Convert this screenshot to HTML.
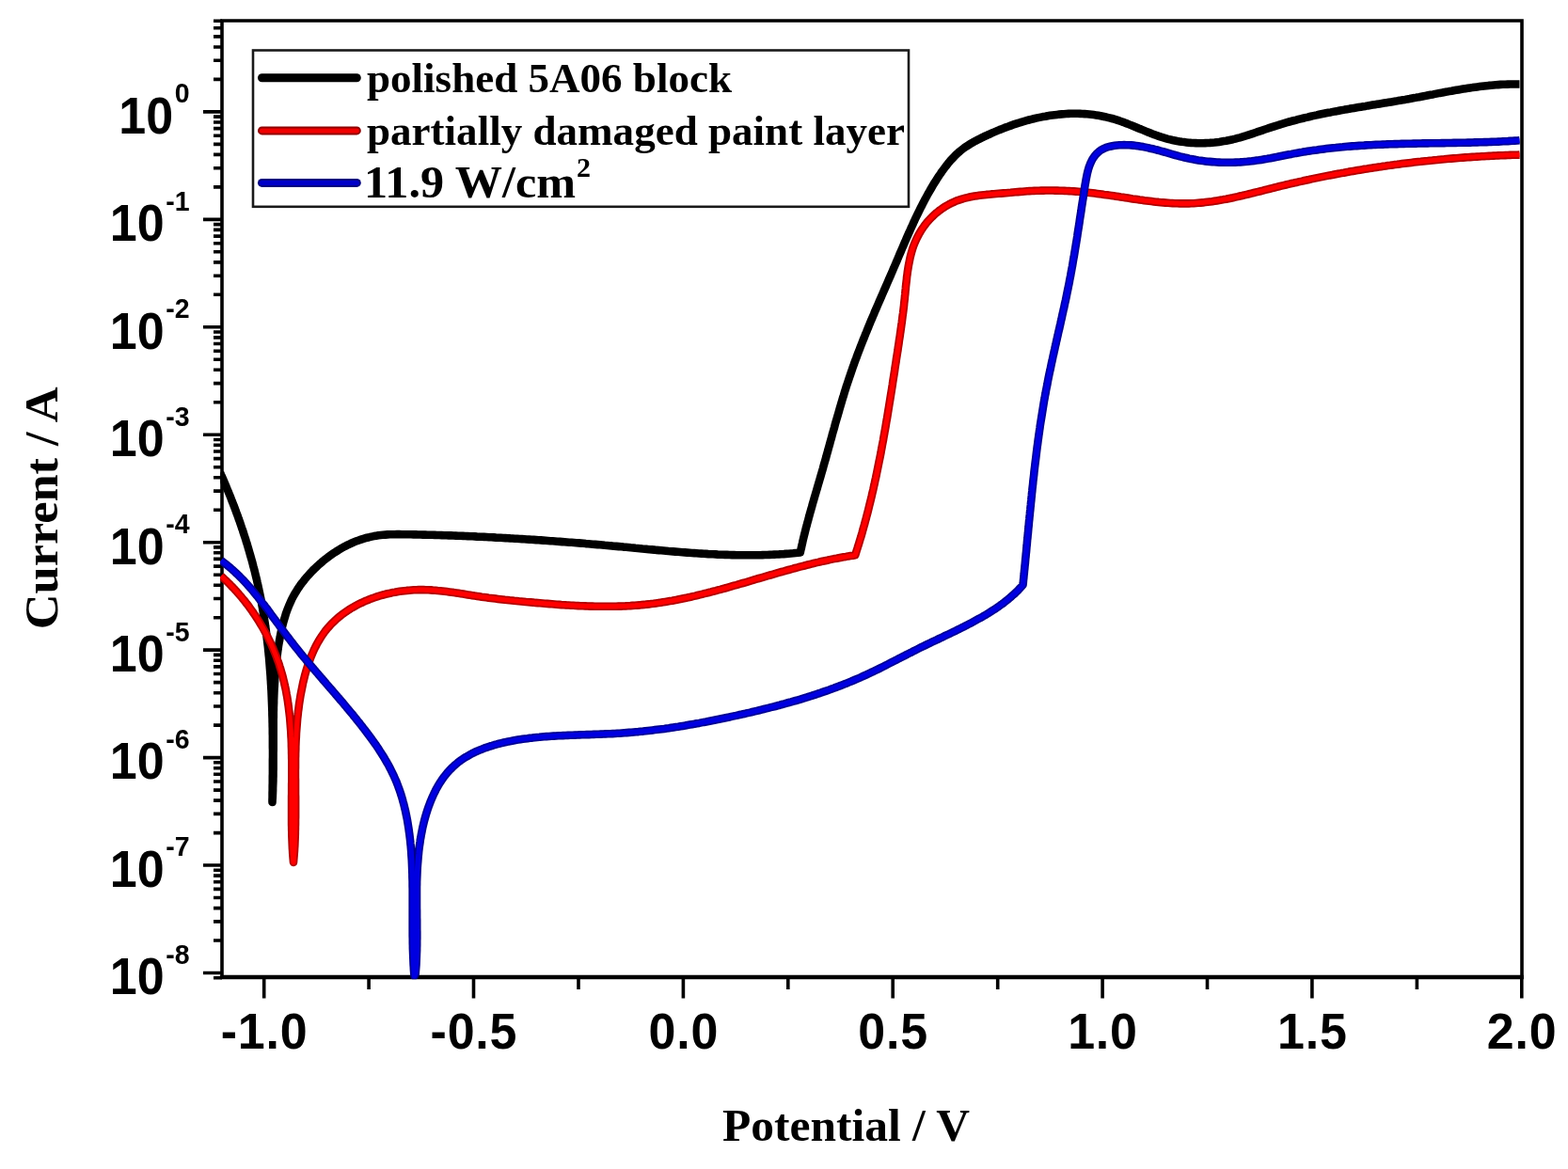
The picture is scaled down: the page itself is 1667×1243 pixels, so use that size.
<!DOCTYPE html>
<html><head><meta charset="utf-8"><title>Current vs Potential</title>
<style>
html,body{margin:0;padding:0;background:#fff;}
body{width:1667px;height:1243px;overflow:hidden;}
svg{display:block;}
.sup{font-size:28.5px;}
</style></head><body>
<svg width="1667" height="1243" viewBox="0 0 1667 1243">
<rect width="1667" height="1243" fill="#fff"/>
<path d="M236 1039V22H1618V1039" fill="none" stroke="#000" stroke-width="3.6" stroke-linecap="square"/>
<path d="M234.2 1039H1619.8" fill="none" stroke="#000" stroke-width="4.6"/>
<path d="M216 118.9H236M216 233.4H236M216 347.8H236M216 462.2H236M216 576.7H236M216 691.1H236M216 805.6H236M216 920H236M216 1034.5H236M227 1039.7H236M227 1000H236M227 979.9H236M227 965.6H236M227 954.5H236M227 945.4H236M227 937.8H236M227 931.1H236M227 925.3H236M227 885.6H236M227 865.4H236M227 851.1H236M227 840.1H236M227 831H236M227 823.3H236M227 816.7H236M227 810.8H236M227 771.1H236M227 751H236M227 736.7H236M227 725.6H236M227 716.5H236M227 708.9H236M227 702.2H236M227 696.4H236M227 656.7H236M227 636.5H236M227 622.2H236M227 611.2H236M227 602.1H236M227 594.4H236M227 587.8H236M227 581.9H236M227 542.2H236M227 522.1H236M227 507.8H236M227 496.7H236M227 487.6H236M227 480H236M227 473.3H236M227 467.5H236M227 427.8H236M227 407.6H236M227 393.3H236M227 382.3H236M227 373.2H236M227 365.5H236M227 358.9H236M227 353H236M227 313.3H236M227 293.2H236M227 278.9H236M227 267.8H236M227 258.7H236M227 251.1H236M227 244.4H236M227 238.6H236M227 198.9H236M227 178.7H236M227 164.4H236M227 153.4H236M227 144.3H236M227 136.6H236M227 130H236M227 124.1H236M227 84.4H236M227 64.3H236M227 50H236M227 38.9H236M227 29.8H236M227 22.2H236M280.7 1039V1061.5M503.5 1039V1061.5M726.4 1039V1061.5M949.2 1039V1061.5M1172.1 1039V1061.5M1394.9 1039V1061.5M1617.8 1039V1061.5M392.1 1039V1052M615 1039V1052M837.8 1039V1052M1060.7 1039V1052M1283.5 1039V1052M1506.4 1039V1052" stroke="#000" stroke-width="3.6" fill="none"/>
<defs><clipPath id="pc"><rect x="234.2" y="20.2" width="1382" height="1021.1"/></clipPath></defs>
<g fill="none" stroke-linejoin="round" stroke-linecap="butt" clip-path="url(#pc)">
<path d="M234 502.5L235 504.8 236.1 507.1 237.1 509.5 238.1 511.8 239.1 514.1 240.1 516.5 241 518.8 242 521.2 243 523.5 243.9 525.8 244.9 528.2 245.8 530.5 246.7 532.9 247.7 535.3 248.6 537.6 249.5 540 250.4 542.4 251.2 544.7 252.1 547.1 253 549.5 253.8 551.9 254.7 554.2 255.5 556.6 256.3 559 257.1 561.4 258 563.8 258.7 566.2 259.5 568.6 260.3 571 261.1 573.4 261.8 575.8 262.6 578.2 263.3 580.6 264 583 264.7 585.4 265.4 587.9 266.1 590.3 266.8 592.7 267.5 595.1 268.2 597.6 268.8 600 269.4 602.4 270.1 604.9 270.7 607.3 271.3 609.7 271.9 612.2 272.5 614.6 273.1 617.1 273.6 619.5 274.2 622 274.7 624.4 275.2 626.9 275.8 629.3 276.3 631.8 276.8 634.3 277.3 636.7 277.7 639.2 278.2 641.7 278.6 644.1 279.1 646.6 279.5 649.1 279.9 651.6 280.3 654.1 280.7 656.5 281.1 659 281.5 661.5 281.9 664 282.2 666.5 282.6 669 282.9 671.5 283.2 674 283.5 676.5 283.8 679 284.1 681.5 284.4 684 284.7 686.5 285 689 285.2 691.5 285.5 694 285.7 696.5 286 699 286.2 701.5 286.4 704 286.6 706.5 286.8 709.1 287 711.6 287.2 714.1 287.4 716.6 287.6 719.1 287.7 721.6 287.9 724.2 288 726.7 288.2 729.2 288.3 731.7 288.5 734.3 288.6 736.8 288.7 739.3 288.8 741.8 288.9 744.4 289 746.9 289.1 749.4 289.2 751.9 289.3 754.5 289.4 757 289.4 759.5 289.5 762.1 289.6 764.6 289.6 767.1 289.7 769.6 289.7 772.2 289.8 774.7 289.8 777.2 289.8 779.8 289.9 782.3 289.9 784.8 289.9 787.4 289.9 789.9 289.9 792.4 289.9 794.9 290 797.5 290 800 290 802.5 290 805.1 289.9 807.6 289.9 810.1 289.9 812.7 289.9 815.2 289.9 817.7 289.9 820.2 289.9 822.8 289.8 825.3 289.8 827.8 289.8 830.3 289.8 832.9 289.7 835.4 289.7 837.9 289.7 840.4 289.6 842.9 289.6 845.5 289.6 848 289.5 850.5 289.5 853L289.6 850.5 289.8 848 289.9 845.6 290 843.1 290.1 840.6 290.1 838.1 290.2 835.6 290.3 833.1 290.4 830.6 290.4 828.1 290.5 825.6 290.5 823.1 290.5 820.6 290.6 818.1 290.6 815.5 290.6 813 290.6 810.5 290.6 808 290.6 805.5 290.6 803 290.6 800.4 290.7 797.9 290.7 795.4 290.7 792.9 290.7 790.3 290.7 787.8 290.7 785.3 290.7 782.7 290.7 780.2 290.7 777.7 290.7 775.2 290.7 772.6 290.7 770.1 290.7 767.6 290.7 765 290.8 762.5 290.8 760 290.8 757.4 290.9 754.9 290.9 752.4 291 749.9 291.1 747.3 291.1 744.8 291.2 742.3 291.3 739.7 291.4 737.2 291.5 734.7 291.6 732.2 291.8 729.7 291.9 727.1 292.1 724.6 292.2 722.1 292.4 719.6 292.6 717.1 292.8 714.6 293 712.1 293.2 709.6 293.5 707.1 293.7 704.6 294 702.1 294.3 699.6 294.6 697.1 295 694.6 295.3 692.1 295.7 689.6 296 687.1 296.4 684.6 296.9 682.2 297.3 679.7 297.8 677.2 298.2 674.8 298.7 672.3 299.3 669.8 299.8 667.4 300.4 665 301 662.6 301.7 660.1 302.4 657.7 303.1 655.4 303.8 653 304.6 650.7 305.5 648.3 306.4 646 307.3 643.7 308.3 641.5 309.3 639.2 310.3 637 311.5 634.8 312.6 632.7 313.9 630.5 315.2 628.4 316.5 626.3 317.9 624.3 319.3 622.2 320.8 620.2 322.3 618.3 323.8 616.3 325.4 614.4 327.1 612.5 328.8 610.6 330.5 608.7 332.2 606.9 334 605.1 335.9 603.3 337.7 601.6 339.6 599.9 341.6 598.2 343.5 596.5 345.5 594.9 347.6 593.3 349.6 591.8 351.7 590.3 353.8 588.8 356 587.3 358.1 586 360.3 584.6 362.5 583.3 364.7 582.1 367 580.8 369.2 579.7 371.5 578.6 373.8 577.5 376.1 576.5 378.4 575.6 380.8 574.7 383.1 573.9 385.5 573.1 387.9 572.4 390.2 571.7 392.6 571.2 395 570.6 397.5 570.1 399.9 569.7 402.3 569.3 404.8 569 407.2 568.8 409.7 568.6 412.1 568.4 414.6 568.3 417.1 568.2 419.6 568.2 422.1 568.1 424.6 568.1 427.1 568.2 429.6 568.2 432.1 568.2 434.6 568.3 437.1 568.3 439.6 568.4 442.1 568.4 444.6 568.5 447.1 568.5 449.6 568.6 452.1 568.6 454.6 568.7 457.1 568.8 459.6 568.8 462.1 568.9 464.6 569 467.1 569 469.6 569.1 472.1 569.2 474.6 569.3 477.1 569.4 479.6 569.4 482.1 569.5 484.6 569.6 487.1 569.7 489.7 569.8 492.2 569.9 494.7 570 497.2 570.1 499.7 570.2 502.2 570.3 504.7 570.4 507.2 570.6 509.7 570.7 512.2 570.8 514.8 570.9 517.3 571 519.8 571.2 522.3 571.3 524.8 571.4 527.3 571.6 529.8 571.7 532.3 571.8 534.8 572 537.4 572.1 539.9 572.2 542.4 572.4 544.9 572.5 547.4 572.7 549.9 572.8 552.4 573 554.9 573.1 557.5 573.3 560 573.5 562.5 573.6 565 573.8 567.5 573.9 570 574.1 572.5 574.3 575 574.4 577.6 574.6 580.1 574.8 582.6 575 585.1 575.2 587.6 575.3 590.1 575.5 592.6 575.7 595.2 575.9 597.7 576.1 600.2 576.3 602.7 576.5 605.2 576.7 607.7 576.8 610.2 577 612.7 577.2 615.3 577.4 617.8 577.6 620.3 577.8 622.8 578.1 625.3 578.3 627.8 578.5 630.3 578.7 632.8 578.9 635.3 579.1 637.9 579.3 640.4 579.5 642.9 579.8 645.4 580 647.9 580.2 650.4 580.4 652.9 580.7 655.4 580.9 657.9 581.1 660.4 581.3 662.9 581.6 665.5 581.8 668 582 670.5 582.3 673 582.5 675.5 582.8 678 583 680.5 583.2 683 583.5 685.5 583.7 688 583.9 690.5 584.2 693 584.4 695.5 584.6 698 584.9 700.5 585.1 703 585.3 705.5 585.5 708 585.7 710.6 586 713.1 586.2 715.6 586.4 718.1 586.6 720.6 586.8 723.1 587 725.6 587.2 728.1 587.4 730.6 587.6 733.1 587.8 735.6 588 738.1 588.1 740.6 588.3 743.1 588.5 745.6 588.6 748.1 588.8 750.6 588.9 753.1 589.1 755.6 589.2 758.1 589.3 760.6 589.4 763.1 589.6 765.6 589.7 768.1 589.8 770.6 589.9 773.1 589.9 775.6 590 778.1 590.1 780.6 590.1 783.1 590.2 785.6 590.2 788.1 590.3 790.7 590.3 793.2 590.3 795.7 590.3 798.2 590.3 800.7 590.3 803.2 590.3 805.7 590.2 808.2 590.2 810.7 590.1 813.2 590 815.7 590 818.2 589.9 820.7 589.8 823.2 589.6 825.7 589.5 828.2 589.4 830.7 589.2 833.2 589.1 835.8 588.9 838.3 588.7 840.8 588.5 843.3 588.3 845.8 588 848.3 587.8 850.8 587.5L851.3 585 851.9 582.6 852.4 580.1 853 577.7 853.5 575.2 854.1 572.8 854.7 570.3 855.3 567.9 855.9 565.5 856.5 563 857.1 560.6 857.8 558.2 858.4 555.8 859.1 553.4 859.7 550.9 860.4 548.5 861 546.1 861.7 543.7 862.4 541.3 863.1 538.9 863.7 536.5 864.4 534.1 865.1 531.7 865.8 529.3 866.5 526.9 867.2 524.5 867.9 522.1 868.6 519.7 869.3 517.3 870 514.9 870.7 512.5 871.4 510.1 872.1 507.7 872.8 505.3 873.5 502.9 874.2 500.5 874.9 498.1 875.5 495.7 876.2 493.3 876.9 490.9 877.6 488.5 878.3 486 878.9 483.6 879.6 481.2 880.3 478.8 880.9 476.4 881.6 474 882.3 471.5 882.9 469.1 883.6 466.7 884.3 464.3 884.9 461.8 885.6 459.4 886.3 457 887 454.6 887.6 452.2 888.3 449.7 889 447.3 889.7 444.9 890.4 442.5 891.1 440.1 891.8 437.7 892.5 435.2 893.2 432.8 893.9 430.4 894.6 428 895.3 425.6 896 423.2 896.8 420.8 897.5 418.4 898.2 416 899 413.6 899.7 411.2 900.5 408.9 901.3 406.5 902.1 404.1 902.9 401.7 903.7 399.3 904.5 397 905.3 394.6 906.1 392.3 906.9 389.9 907.8 387.5 908.6 385.2 909.5 382.8 910.4 380.5 911.2 378.2 912.1 375.8 913 373.5 913.9 371.2 914.8 368.8 915.7 366.5 916.6 364.2 917.5 361.9 918.5 359.5 919.4 357.2 920.3 354.9 921.3 352.6 922.2 350.3 923.2 348 924.1 345.6 925.1 343.3 926 341 927 338.7 928 336.4 929 334.1 929.9 331.8 930.9 329.5 931.9 327.2 932.9 324.9 933.9 322.6 934.9 320.3 935.9 318 936.9 315.7 937.9 313.4 938.9 311.1 939.9 308.8 940.9 306.5 941.9 304.2 942.9 301.9 943.9 299.6 944.9 297.3 945.9 295 946.9 292.7 947.9 290.4 948.9 288.1 949.9 285.7 950.9 283.4 951.9 281.1 952.9 278.8 953.9 276.5 954.8 274.2 955.8 271.9 956.8 269.5 957.8 267.2 958.8 264.9 959.8 262.6 960.8 260.3 961.8 257.9 962.8 255.6 963.8 253.3 964.8 251 965.8 248.7 966.9 246.4 967.9 244.1 968.9 241.8 970 239.5 971 237.2 972.1 234.9 973.1 232.6 974.2 230.4 975.3 228.1 976.4 225.8 977.5 223.6 978.6 221.3 979.8 219.1 980.9 216.8 982.1 214.6 983.2 212.4 984.4 210.2 985.6 208 986.8 205.8 988.1 203.6 989.3 201.5 990.6 199.3 991.8 197.2 993.1 195 994.5 192.9 995.8 190.8 997.1 188.7 998.5 186.6 999.9 184.6 1001.3 182.5 1002.8 180.5 1004.3 178.5 1005.8 176.5 1007.3 174.6 1008.8 172.7 1010.4 170.8 1012.1 169 1013.8 167.2 1015.5 165.4 1017.2 163.7 1019 162.1 1020.9 160.5 1022.8 159 1024.7 157.5 1026.7 156.1 1028.7 154.8 1030.8 153.5 1032.9 152.2 1035 151 1037.2 149.8 1039.4 148.7 1041.6 147.6 1043.9 146.4 1046.1 145.3 1048.4 144.3 1050.7 143.2 1053 142.2 1055.3 141.1 1057.7 140.1 1060 139.1 1062.4 138.1 1064.8 137.2 1067.2 136.3 1069.6 135.3 1072 134.5 1074.4 133.6 1076.8 132.7 1079.2 131.9 1081.7 131.1 1084.1 130.4 1086.6 129.6 1089.1 128.9 1091.5 128.2 1094 127.5 1096.5 126.9 1099 126.3 1101.4 125.7 1103.9 125.1 1106.4 124.6 1108.9 124.1 1111.4 123.7 1113.8 123.2 1116.3 122.8 1118.8 122.5 1121.3 122.2 1123.7 121.9 1126.2 121.6 1128.7 121.4 1131.1 121.2 1133.6 121 1136 120.9 1138.5 120.8 1141 120.8 1143.4 120.8 1145.8 120.8 1148.3 120.9 1150.7 121 1153.1 121.1 1155.6 121.3 1158 121.5 1160.4 121.8 1162.8 122.1 1165.3 122.4 1167.7 122.8 1170.1 123.2 1172.5 123.7 1174.9 124.2 1177.3 124.8 1179.7 125.4 1182.1 126 1184.5 126.7 1186.8 127.4 1189.2 128.2 1191.6 129 1194 129.8 1196.3 130.7 1198.7 131.6 1201.1 132.6 1203.4 133.5 1205.8 134.5 1208.2 135.5 1210.5 136.5 1212.9 137.4 1215.3 138.4 1217.6 139.4 1220 140.4 1222.4 141.3 1224.8 142.3 1227.2 143.2 1229.6 144 1232 144.9 1234.4 145.7 1236.8 146.4 1239.2 147.1 1241.7 147.8 1244.1 148.4 1246.6 149 1249 149.5 1251.5 150 1254 150.4 1256.4 150.8 1258.9 151.1 1261.4 151.4 1263.9 151.7 1266.3 151.9 1268.8 152 1271.3 152.1 1273.8 152.2 1276.3 152.2 1278.8 152.2 1281.3 152.1 1283.8 152 1286.2 151.9 1288.7 151.7 1291.2 151.5 1293.7 151.2 1296.1 150.9 1298.6 150.5 1301.1 150.1 1303.5 149.7 1305.9 149.2 1308.4 148.7 1310.8 148.2 1313.2 147.6 1315.7 146.9 1318.1 146.3 1320.5 145.6 1322.9 144.9 1325.3 144.2 1327.7 143.4 1330 142.6 1332.4 141.8 1334.8 141 1337.2 140.2 1339.6 139.4 1342 138.6 1344.3 137.8 1346.7 137 1349.1 136.2 1351.5 135.4 1353.9 134.6 1356.3 133.8 1358.7 133.1 1361.1 132.3 1363.5 131.6 1365.9 130.9 1368.3 130.2 1370.7 129.5 1373.1 128.8 1375.6 128.2 1378 127.6 1380.4 126.9 1382.8 126.3 1385.3 125.7 1387.7 125.1 1390.2 124.6 1392.6 124 1395 123.4 1397.5 122.9 1399.9 122.4 1402.4 121.8 1404.8 121.3 1407.3 120.8 1409.7 120.3 1412.2 119.8 1414.7 119.4 1417.1 118.9 1419.6 118.4 1422.1 118 1424.5 117.5 1427 117.1 1429.5 116.6 1431.9 116.2 1434.4 115.8 1436.9 115.3 1439.4 114.9 1441.8 114.5 1444.3 114.1 1446.8 113.7 1449.3 113.3 1451.7 112.9 1454.2 112.4 1456.7 112 1459.2 111.6 1461.7 111.2 1464.1 110.8 1466.6 110.4 1469.1 110 1471.6 109.6 1474 109.2 1476.5 108.8 1479 108.4 1481.5 108 1484 107.6 1486.4 107.1 1488.9 106.7 1491.4 106.3 1493.9 105.9 1496.3 105.4 1498.8 105 1501.3 104.5 1503.7 104.1 1506.2 103.6 1508.7 103.2 1511.1 102.7 1513.6 102.2 1516.1 101.8 1518.5 101.3 1521 100.8 1523.5 100.4 1525.9 99.9 1528.4 99.4 1530.8 98.9 1533.3 98.5 1535.8 98 1538.2 97.6 1540.7 97.1 1543.2 96.7 1545.6 96.2 1548.1 95.8 1550.6 95.4 1553 95 1555.5 94.6 1558 94.2 1560.5 93.8 1562.9 93.4 1565.4 93.1 1567.9 92.7 1570.4 92.4 1572.8 92.1 1575.3 91.8 1577.8 91.5 1580.3 91.2 1582.8 90.9 1585.3 90.7 1587.8 90.5 1590.3 90.3 1592.8 90.1 1595.3 89.9 1597.8 89.8 1600.3 89.7 1602.9 89.6 1605.4 89.5 1607.9 89.5 1610.4 89.5 1613 89.5 1615.5 89.5" stroke="#000" stroke-width="8.6"/>
<path d="M235 612.5L236.9 614.2 238.8 616 240.6 617.7 242.5 619.5 244.3 621.3 246 623.1 247.8 624.9 249.6 626.8 251.3 628.7 253 630.6 254.6 632.5 256.3 634.4 257.9 636.4 259.5 638.3 261.1 640.3 262.6 642.3 264.2 644.3 265.7 646.4 267.1 648.4 268.6 650.5 270 652.6 271.4 654.7 272.8 656.8 274.2 658.9 275.5 661 276.8 663.2 278.1 665.4 279.4 667.5 280.6 669.7 281.8 671.9 283 674.2 284.1 676.4 285.2 678.6 286.3 680.9 287.4 683.2 288.5 685.4 289.5 687.7 290.5 690 291.4 692.3 292.4 694.7 293.3 697 294.2 699.3 295 701.7 295.9 704 296.7 706.4 297.4 708.8 298.2 711.2 298.9 713.6 299.6 716 300.3 718.4 300.9 720.8 301.5 723.2 302.1 725.6 302.6 728.1 303.2 730.5 303.7 732.9 304.2 735.4 304.6 737.8 305.1 740.3 305.5 742.8 305.9 745.3 306.2 747.7 306.6 750.2 306.9 752.7 307.2 755.2 307.5 757.7 307.8 760.2 308.1 762.7 308.3 765.2 308.5 767.7 308.7 770.2 308.9 772.8 309.1 775.3 309.3 777.8 309.4 780.4 309.5 782.9 309.7 785.4 309.8 788 309.9 790.5 309.9 793 310 795.6 310.1 798.1 310.1 800.7 310.2 803.2 310.2 805.8 310.3 808.3 310.3 810.9 310.3 813.5 310.3 816 310.3 818.6 310.3 821.1 310.3 823.7 310.3 826.2 310.3 828.8 310.3 831.4 310.2 833.9 310.2 836.5 310.2 839 310.2 841.6 310.2 844.1 310.1 846.7 310.1 849.2 310.1 851.8 310.1 854.3 310.1 856.9 310.1 859.4 310.1 862 310.1 864.5 310.1 867.1 310.1 869.6 310.1 872.1 310.1 874.6 310.1 877.2 310.2 879.7 310.2 882.2 310.3 884.7 310.3 887.2 310.4 889.7 310.5 892.2 310.6 894.7 310.7 897.2 310.8 899.7 310.9 902.2 311.1 904.7 311.2 907.2 311.4 909.6 311.6 912.1 311.8 914.5 312 917L312.2 914.5 312.4 912 312.6 909.5 312.8 907 313 904.4 313.1 901.9 313.3 899.4 313.4 896.9 313.5 894.4 313.6 891.9 313.7 889.4 313.8 886.9 313.8 884.4 313.9 881.9 313.9 879.4 314 876.8 314 874.3 314 871.8 314.1 869.3 314.1 866.8 314.1 864.3 314.1 861.8 314.1 859.3 314.1 856.8 314.1 854.3 314.1 851.8 314.1 849.3 314.1 846.8 314 844.3 314 841.8 314 839.2 314 836.7 314 834.2 314 831.7 314 829.2 313.9 826.7 313.9 824.2 313.9 821.7 313.9 819.2 314 816.7 314 814.2 314 811.7 314 809.2 314 806.7 314.1 804.2 314.1 801.7 314.2 799.2 314.3 796.6 314.3 794.1 314.4 791.6 314.5 789.1 314.6 786.6 314.8 784.1 314.9 781.6 315 779.1 315.2 776.6 315.4 774.1 315.6 771.6 315.8 769.1 316 766.5 316.2 764 316.5 761.5 316.8 759 317 756.5 317.4 754 317.7 751.5 318 749 318.4 746.4 318.8 743.9 319.2 741.4 319.6 738.9 320.1 736.4 320.6 733.9 321.1 731.4 321.6 728.9 322.1 726.3 322.7 723.9 323.3 721.4 323.9 718.9 324.6 716.4 325.3 713.9 326 711.5 326.8 709.1 327.6 706.7 328.4 704.3 329.3 701.9 330.2 699.5 331.1 697.2 332.1 694.9 333.1 692.6 334.1 690.3 335.2 688.1 336.4 685.9 337.5 683.7 338.8 681.6 340 679.5 341.3 677.4 342.7 675.4 344.1 673.4 345.5 671.4 347 669.5 348.6 667.6 350.2 665.8 351.8 664 353.5 662.3 355.3 660.6 357.1 658.9 358.9 657.3 360.7 655.7 362.7 654.2 364.6 652.7 366.6 651.3 368.6 649.9 370.7 648.5 372.8 647.2 374.9 645.9 377 644.7 379.2 643.5 381.4 642.3 383.7 641.2 386 640.2 388.3 639.1 390.6 638.2 392.9 637.2 395.3 636.3 397.7 635.5 400.1 634.7 402.5 633.9 404.9 633.2 407.4 632.5 409.8 631.8 412.3 631.2 414.8 630.7 417.3 630.1 419.8 629.7 422.3 629.2 424.9 628.8 427.4 628.5 429.9 628.2 432.5 627.9 435 627.7 437.5 627.5 440.1 627.3 442.6 627.2 445.1 627.1 447.7 627.1 450.2 627.1 452.7 627.2 455.2 627.3 457.7 627.4 460.2 627.6 462.7 627.7 465.2 628 467.7 628.2 470.2 628.5 472.6 628.8 475.1 629.1 477.6 629.4 480.1 629.7 482.5 630.1 485 630.4 487.5 630.8 489.9 631.2 492.4 631.6 494.8 632 497.3 632.4 499.8 632.8 502.2 633.2 504.7 633.6 507.2 633.9 509.6 634.3 512.1 634.7 514.5 635 517 635.3 519.5 635.7 521.9 636 524.4 636.3 526.9 636.6 529.4 636.9 531.8 637.2 534.3 637.5 536.8 637.8 539.3 638 541.8 638.3 544.2 638.5 546.7 638.8 549.2 639 551.7 639.3 554.2 639.5 556.7 639.7 559.2 640 561.7 640.2 564.2 640.4 566.7 640.6 569.2 640.9 571.7 641.1 574.2 641.3 576.7 641.5 579.3 641.7 581.8 641.9 584.3 642.1 586.8 642.3 589.3 642.5 591.9 642.7 594.4 642.9 596.9 643.1 599.4 643.2 602 643.4 604.5 643.5 607 643.7 609.5 643.8 612.1 644 614.6 644.1 617.1 644.2 619.6 644.3 622.2 644.4 624.7 644.5 627.2 644.6 629.8 644.6 632.3 644.7 634.8 644.8 637.3 644.8 639.9 644.8 642.4 644.8 644.9 644.8 647.4 644.8 650 644.8 652.5 644.8 655 644.7 657.5 644.6 660 644.6 662.5 644.5 665 644.4 667.6 644.2 670.1 644.1 672.6 643.9 675.1 643.8 677.6 643.6 680.1 643.4 682.5 643.1 685 642.9 687.5 642.6 690 642.4 692.5 642.1 695 641.8 697.4 641.4 699.9 641.1 702.4 640.7 704.8 640.3 707.3 639.9 709.8 639.5 712.2 639.1 714.7 638.7 717.1 638.2 719.6 637.8 722 637.3 724.5 636.8 726.9 636.3 729.4 635.8 731.8 635.2 734.2 634.7 736.7 634.1 739.1 633.6 741.5 633 744 632.4 746.4 631.8 748.8 631.2 751.3 630.6 753.7 630 756.1 629.4 758.5 628.7 761 628.1 763.4 627.4 765.8 626.8 768.2 626.1 770.6 625.5 773 624.8 775.5 624.1 777.9 623.4 780.3 622.7 782.7 622.1 785.1 621.4 787.5 620.7 789.9 620 792.4 619.3 794.8 618.6 797.2 617.9 799.6 617.2 802 616.4 804.4 615.7 806.8 615 809.2 614.3 811.7 613.6 814.1 612.9 816.5 612.2 818.9 611.5 821.3 610.8 823.7 610.1 826.1 609.4 828.6 608.7 831 608 833.4 607.4 835.8 606.7 838.2 606 840.7 605.3 843.1 604.7 845.5 604 847.9 603.4 850.4 602.7 852.8 602.1 855.2 601.5 857.6 600.8 860.1 600.2 862.5 599.6 865 599 867.4 598.4 869.8 597.9 872.3 597.3 874.7 596.7 877.2 596.2 879.6 595.7 882.1 595.1 884.5 594.6 887 594.1 889.4 593.7 891.9 593.2 894.4 592.7 896.8 592.3 899.3 591.9 901.8 591.4 904.2 591 906.7 590.7 909.2 590.3L910 587.9 910.7 585.5 911.5 583.1 912.2 580.8 913 578.4 913.7 576 914.4 573.6 915.2 571.2 915.9 568.8 916.6 566.4 917.2 564 917.9 561.5 918.6 559.1 919.3 556.7 919.9 554.3 920.6 551.9 921.2 549.4 921.9 547 922.5 544.6 923.1 542.2 923.7 539.7 924.3 537.3 924.9 534.9 925.5 532.4 926.1 530 926.7 527.5 927.2 525.1 927.8 522.7 928.4 520.2 928.9 517.8 929.5 515.3 930 512.9 930.5 510.4 931.1 507.9 931.6 505.5 932.1 503 932.6 500.6 933.1 498.1 933.6 495.7 934.1 493.2 934.6 490.7 935.1 488.3 935.6 485.8 936.1 483.3 936.6 480.9 937 478.4 937.5 475.9 937.9 473.5 938.4 471 938.9 468.5 939.3 466 939.7 463.6 940.2 461.1 940.6 458.6 941.1 456.1 941.5 453.7 941.9 451.2 942.3 448.7 942.8 446.2 943.2 443.8 943.6 441.3 944 438.8 944.4 436.3 944.8 433.9 945.2 431.4 945.6 428.9 946 426.5 946.4 424 946.8 421.5 947.2 419 947.6 416.6 948 414.1 948.4 411.6 948.8 409.1 949.1 406.7 949.5 404.2 949.9 401.7 950.3 399.3 950.7 396.8 951.1 394.3 951.4 391.9 951.8 389.4 952.2 386.9 952.6 384.5 952.9 382 953.3 379.5 953.7 377.1 954.1 374.6 954.5 372.2 954.8 369.7 955.2 367.3 955.6 364.8 955.9 362.3 956.3 359.9 956.7 357.4 957 354.9 957.4 352.5 957.7 350 958.1 347.5 958.4 345.1 958.8 342.6 959.1 340.1 959.4 337.6 959.7 335.1 960.1 332.6 960.4 330.1 960.7 327.6 961 325.1 961.2 322.5 961.5 320 961.8 317.5 962 314.9 962.3 312.4 962.5 309.8 962.8 307.2 963 304.7 963.3 302.1 963.6 299.5 963.9 297 964.1 294.4 964.5 291.9 964.8 289.3 965.2 286.8 965.6 284.3 966 281.8 966.5 279.3 967 276.8 967.5 274.3 968.1 271.9 968.7 269.5 969.4 267.1 970.1 264.7 970.9 262.3 971.8 260 972.7 257.7 973.7 255.5 974.8 253.2 975.9 251 977 248.9 978.3 246.7 979.6 244.6 980.9 242.6 982.3 240.6 983.8 238.6 985.3 236.7 986.9 234.9 988.6 233 990.3 231.3 992 229.6 993.8 227.9 995.6 226.3 997.5 224.8 999.5 223.3 1001.4 221.8 1003.5 220.5 1005.5 219.2 1007.7 218 1009.8 216.8 1012 215.7 1014.3 214.7 1016.5 213.7 1018.9 212.9 1021.2 212.1 1023.6 211.3 1026 210.7 1028.5 210.1 1030.9 209.5 1033.4 209 1035.9 208.6 1038.5 208.2 1041 207.8 1043.6 207.5 1046.2 207.2 1048.7 206.9 1051.3 206.7 1053.9 206.4 1056.5 206.2 1059.1 206 1061.7 205.8 1064.3 205.6 1066.8 205.4 1069.4 205.2 1071.9 205 1074.5 204.8 1077 204.5 1079.5 204.3 1082 204.1 1084.5 203.9 1087 203.7 1089.5 203.5 1092 203.3 1094.5 203.1 1097 203 1099.4 202.9 1101.9 202.8 1104.4 202.7 1106.9 202.6 1109.4 202.6 1111.8 202.5 1114.3 202.5 1116.8 202.5 1119.3 202.5 1121.7 202.6 1124.2 202.6 1126.7 202.7 1129.2 202.8 1131.7 202.9 1134.1 203 1136.6 203.1 1139.1 203.3 1141.6 203.4 1144.1 203.6 1146.5 203.8 1149 204 1151.5 204.2 1154 204.5 1156.5 204.7 1159 205 1161.5 205.3 1164 205.6 1166.5 205.9 1168.9 206.2 1171.4 206.5 1173.9 206.9 1176.4 207.2 1178.9 207.6 1181.5 207.9 1184 208.3 1186.5 208.7 1189 209.1 1191.5 209.5 1194 209.8 1196.5 210.2 1199 210.6 1201.5 211 1204 211.4 1206.5 211.7 1209 212.1 1211.5 212.5 1214.1 212.8 1216.6 213.2 1219.1 213.5 1221.6 213.8 1224.1 214.1 1226.6 214.4 1229.1 214.7 1231.6 214.9 1234.1 215.2 1236.6 215.4 1239.1 215.6 1241.6 215.8 1244.1 216 1246.6 216.1 1249.1 216.2 1251.6 216.3 1254.1 216.4 1256.6 216.4 1259.1 216.4 1261.6 216.4 1264 216.4 1266.5 216.3 1269 216.2 1271.5 216 1273.9 215.8 1276.4 215.6 1278.9 215.4 1281.4 215.1 1283.8 214.8 1286.3 214.5 1288.7 214.2 1291.2 213.8 1293.7 213.4 1296.1 213 1298.6 212.6 1301 212.1 1303.5 211.7 1305.9 211.2 1308.4 210.7 1310.8 210.2 1313.3 209.6 1315.7 209.1 1318.2 208.5 1320.6 208 1323.1 207.4 1325.5 206.8 1328 206.2 1330.4 205.6 1332.9 205 1335.3 204.4 1337.7 203.8 1340.2 203.2 1342.6 202.6 1345.1 201.9 1347.5 201.3 1350 200.7 1352.4 200.1 1354.9 199.5 1357.3 198.9 1359.8 198.3 1362.2 197.7 1364.7 197.1 1367.1 196.5 1369.6 195.9 1372 195.3 1374.5 194.8 1376.9 194.2 1379.4 193.7 1381.8 193.1 1384.3 192.6 1386.7 192 1389.2 191.5 1391.6 191 1394.1 190.4 1396.6 189.9 1399 189.4 1401.5 188.9 1403.9 188.4 1406.4 187.9 1408.9 187.4 1411.3 186.9 1413.8 186.4 1416.3 186 1418.7 185.5 1421.2 185 1423.7 184.6 1426.1 184.1 1428.6 183.7 1431.1 183.2 1433.5 182.8 1436 182.3 1438.5 181.9 1440.9 181.5 1443.4 181.1 1445.9 180.7 1448.4 180.3 1450.8 179.8 1453.3 179.5 1455.8 179.1 1458.2 178.7 1460.7 178.3 1463.2 177.9 1465.7 177.5 1468.2 177.2 1470.6 176.8 1473.1 176.5 1475.6 176.1 1478.1 175.8 1480.6 175.4 1483 175.1 1485.5 174.8 1488 174.4 1490.5 174.1 1493 173.8 1495.5 173.5 1497.9 173.2 1500.4 172.9 1502.9 172.6 1505.4 172.3 1507.9 172 1510.4 171.8 1512.9 171.5 1515.4 171.2 1517.9 171 1520.4 170.7 1522.8 170.5 1525.3 170.2 1527.8 170 1530.3 169.7 1532.8 169.5 1535.3 169.3 1537.8 169 1540.3 168.8 1542.8 168.6 1545.3 168.4 1547.8 168.2 1550.3 168 1552.8 167.8 1555.3 167.6 1557.8 167.4 1560.3 167.3 1562.8 167.1 1565.3 166.9 1567.8 166.8 1570.3 166.6 1572.8 166.5 1575.3 166.3 1577.8 166.2 1580.3 166 1582.9 165.9 1585.4 165.8 1587.9 165.6 1590.4 165.5 1592.9 165.4 1595.4 165.3 1597.9 165.2 1600.4 165.1 1602.9 165 1605.4 164.9 1608 164.8 1610.5 164.7 1613 164.7 1615.5 164.6" stroke="#b00000" stroke-width="8.6"/>
<path d="M235 612.5L236.9 614.2 238.8 616 240.6 617.7 242.5 619.5 244.3 621.3 246 623.1 247.8 624.9 249.6 626.8 251.3 628.7 253 630.6 254.6 632.5 256.3 634.4 257.9 636.4 259.5 638.3 261.1 640.3 262.6 642.3 264.2 644.3 265.7 646.4 267.1 648.4 268.6 650.5 270 652.6 271.4 654.7 272.8 656.8 274.2 658.9 275.5 661 276.8 663.2 278.1 665.4 279.4 667.5 280.6 669.7 281.8 671.9 283 674.2 284.1 676.4 285.2 678.6 286.3 680.9 287.4 683.2 288.5 685.4 289.5 687.7 290.5 690 291.4 692.3 292.4 694.7 293.3 697 294.2 699.3 295 701.7 295.9 704 296.7 706.4 297.4 708.8 298.2 711.2 298.9 713.6 299.6 716 300.3 718.4 300.9 720.8 301.5 723.2 302.1 725.6 302.6 728.1 303.2 730.5 303.7 732.9 304.2 735.4 304.6 737.8 305.1 740.3 305.5 742.8 305.9 745.3 306.2 747.7 306.6 750.2 306.9 752.7 307.2 755.2 307.5 757.7 307.8 760.2 308.1 762.7 308.3 765.2 308.5 767.7 308.7 770.2 308.9 772.8 309.1 775.3 309.3 777.8 309.4 780.4 309.5 782.9 309.7 785.4 309.8 788 309.9 790.5 309.9 793 310 795.6 310.1 798.1 310.1 800.7 310.2 803.2 310.2 805.8 310.3 808.3 310.3 810.9 310.3 813.5 310.3 816 310.3 818.6 310.3 821.1 310.3 823.7 310.3 826.2 310.3 828.8 310.3 831.4 310.2 833.9 310.2 836.5 310.2 839 310.2 841.6 310.2 844.1 310.1 846.7 310.1 849.2 310.1 851.8 310.1 854.3 310.1 856.9 310.1 859.4 310.1 862 310.1 864.5 310.1 867.1 310.1 869.6 310.1 872.1 310.1 874.6 310.1 877.2 310.2 879.7 310.2 882.2 310.3 884.7 310.3 887.2 310.4 889.7 310.5 892.2 310.6 894.7 310.7 897.2 310.8 899.7 310.9 902.2 311.1 904.7 311.2 907.2 311.4 909.6 311.6 912.1 311.8 914.5 312 917L312.2 914.5 312.4 912 312.6 909.5 312.8 907 313 904.4 313.1 901.9 313.3 899.4 313.4 896.9 313.5 894.4 313.6 891.9 313.7 889.4 313.8 886.9 313.8 884.4 313.9 881.9 313.9 879.4 314 876.8 314 874.3 314 871.8 314.1 869.3 314.1 866.8 314.1 864.3 314.1 861.8 314.1 859.3 314.1 856.8 314.1 854.3 314.1 851.8 314.1 849.3 314.1 846.8 314 844.3 314 841.8 314 839.2 314 836.7 314 834.2 314 831.7 314 829.2 313.9 826.7 313.9 824.2 313.9 821.7 313.9 819.2 314 816.7 314 814.2 314 811.7 314 809.2 314 806.7 314.1 804.2 314.1 801.7 314.2 799.2 314.3 796.6 314.3 794.1 314.4 791.6 314.5 789.1 314.6 786.6 314.8 784.1 314.9 781.6 315 779.1 315.2 776.6 315.4 774.1 315.6 771.6 315.8 769.1 316 766.5 316.2 764 316.5 761.5 316.8 759 317 756.5 317.4 754 317.7 751.5 318 749 318.4 746.4 318.8 743.9 319.2 741.4 319.6 738.9 320.1 736.4 320.6 733.9 321.1 731.4 321.6 728.9 322.1 726.3 322.7 723.9 323.3 721.4 323.9 718.9 324.6 716.4 325.3 713.9 326 711.5 326.8 709.1 327.6 706.7 328.4 704.3 329.3 701.9 330.2 699.5 331.1 697.2 332.1 694.9 333.1 692.6 334.1 690.3 335.2 688.1 336.4 685.9 337.5 683.7 338.8 681.6 340 679.5 341.3 677.4 342.7 675.4 344.1 673.4 345.5 671.4 347 669.5 348.6 667.6 350.2 665.8 351.8 664 353.5 662.3 355.3 660.6 357.1 658.9 358.9 657.3 360.7 655.7 362.7 654.2 364.6 652.7 366.6 651.3 368.6 649.9 370.7 648.5 372.8 647.2 374.9 645.9 377 644.7 379.2 643.5 381.4 642.3 383.7 641.2 386 640.2 388.3 639.1 390.6 638.2 392.9 637.2 395.3 636.3 397.7 635.5 400.1 634.7 402.5 633.9 404.9 633.2 407.4 632.5 409.8 631.8 412.3 631.2 414.8 630.7 417.3 630.1 419.8 629.7 422.3 629.2 424.9 628.8 427.4 628.5 429.9 628.2 432.5 627.9 435 627.7 437.5 627.5 440.1 627.3 442.6 627.2 445.1 627.1 447.7 627.1 450.2 627.1 452.7 627.2 455.2 627.3 457.7 627.4 460.2 627.6 462.7 627.7 465.2 628 467.7 628.2 470.2 628.5 472.6 628.8 475.1 629.1 477.6 629.4 480.1 629.7 482.5 630.1 485 630.4 487.5 630.8 489.9 631.2 492.4 631.6 494.8 632 497.3 632.4 499.8 632.8 502.2 633.2 504.7 633.6 507.2 633.9 509.6 634.3 512.1 634.7 514.5 635 517 635.3 519.5 635.7 521.9 636 524.4 636.3 526.9 636.6 529.4 636.9 531.8 637.2 534.3 637.5 536.8 637.8 539.3 638 541.8 638.3 544.2 638.5 546.7 638.8 549.2 639 551.7 639.3 554.2 639.5 556.7 639.7 559.2 640 561.7 640.2 564.2 640.4 566.7 640.6 569.2 640.9 571.7 641.1 574.2 641.3 576.7 641.5 579.3 641.7 581.8 641.9 584.3 642.1 586.8 642.3 589.3 642.5 591.9 642.7 594.4 642.9 596.9 643.1 599.4 643.2 602 643.4 604.5 643.5 607 643.7 609.5 643.8 612.1 644 614.6 644.1 617.1 644.2 619.6 644.3 622.2 644.4 624.7 644.5 627.2 644.6 629.8 644.6 632.3 644.7 634.8 644.8 637.3 644.8 639.9 644.8 642.4 644.8 644.9 644.8 647.4 644.8 650 644.8 652.5 644.8 655 644.7 657.5 644.6 660 644.6 662.5 644.5 665 644.4 667.6 644.2 670.1 644.1 672.6 643.9 675.1 643.8 677.6 643.6 680.1 643.4 682.5 643.1 685 642.9 687.5 642.6 690 642.4 692.5 642.1 695 641.8 697.4 641.4 699.9 641.1 702.4 640.7 704.8 640.3 707.3 639.9 709.8 639.5 712.2 639.1 714.7 638.7 717.1 638.2 719.6 637.8 722 637.3 724.5 636.8 726.9 636.3 729.4 635.8 731.8 635.2 734.2 634.7 736.7 634.1 739.1 633.6 741.5 633 744 632.4 746.4 631.8 748.8 631.2 751.3 630.6 753.7 630 756.1 629.4 758.5 628.7 761 628.1 763.4 627.4 765.8 626.8 768.2 626.1 770.6 625.5 773 624.8 775.5 624.1 777.9 623.4 780.3 622.7 782.7 622.1 785.1 621.4 787.5 620.7 789.9 620 792.4 619.3 794.8 618.6 797.2 617.9 799.6 617.2 802 616.4 804.4 615.7 806.8 615 809.2 614.3 811.7 613.6 814.1 612.9 816.5 612.2 818.9 611.5 821.3 610.8 823.7 610.1 826.1 609.4 828.6 608.7 831 608 833.4 607.4 835.8 606.7 838.2 606 840.7 605.3 843.1 604.7 845.5 604 847.9 603.4 850.4 602.7 852.8 602.1 855.2 601.5 857.6 600.8 860.1 600.2 862.5 599.6 865 599 867.4 598.4 869.8 597.9 872.3 597.3 874.7 596.7 877.2 596.2 879.6 595.7 882.1 595.1 884.5 594.6 887 594.1 889.4 593.7 891.9 593.2 894.4 592.7 896.8 592.3 899.3 591.9 901.8 591.4 904.2 591 906.7 590.7 909.2 590.3L910 587.9 910.7 585.5 911.5 583.1 912.2 580.8 913 578.4 913.7 576 914.4 573.6 915.2 571.2 915.9 568.8 916.6 566.4 917.2 564 917.9 561.5 918.6 559.1 919.3 556.7 919.9 554.3 920.6 551.9 921.2 549.4 921.9 547 922.5 544.6 923.1 542.2 923.7 539.7 924.3 537.3 924.9 534.9 925.5 532.4 926.1 530 926.7 527.5 927.2 525.1 927.8 522.7 928.4 520.2 928.9 517.8 929.5 515.3 930 512.9 930.5 510.4 931.1 507.9 931.6 505.5 932.1 503 932.6 500.6 933.1 498.1 933.6 495.7 934.1 493.2 934.6 490.7 935.1 488.3 935.6 485.8 936.1 483.3 936.6 480.9 937 478.4 937.5 475.9 937.9 473.5 938.4 471 938.9 468.5 939.3 466 939.7 463.6 940.2 461.1 940.6 458.6 941.1 456.1 941.5 453.7 941.9 451.2 942.3 448.7 942.8 446.2 943.2 443.8 943.6 441.3 944 438.8 944.4 436.3 944.8 433.9 945.2 431.4 945.6 428.9 946 426.5 946.4 424 946.8 421.5 947.2 419 947.6 416.6 948 414.1 948.4 411.6 948.8 409.1 949.1 406.7 949.5 404.2 949.9 401.7 950.3 399.3 950.7 396.8 951.1 394.3 951.4 391.9 951.8 389.4 952.2 386.9 952.6 384.5 952.9 382 953.3 379.5 953.7 377.1 954.1 374.6 954.5 372.2 954.8 369.7 955.2 367.3 955.6 364.8 955.9 362.3 956.3 359.9 956.7 357.4 957 354.9 957.4 352.5 957.7 350 958.1 347.5 958.4 345.1 958.8 342.6 959.1 340.1 959.4 337.6 959.7 335.1 960.1 332.6 960.4 330.1 960.7 327.6 961 325.1 961.2 322.5 961.5 320 961.8 317.5 962 314.9 962.3 312.4 962.5 309.8 962.8 307.2 963 304.7 963.3 302.1 963.6 299.5 963.9 297 964.1 294.4 964.5 291.9 964.8 289.3 965.2 286.8 965.6 284.3 966 281.8 966.5 279.3 967 276.8 967.5 274.3 968.1 271.9 968.7 269.5 969.4 267.1 970.1 264.7 970.9 262.3 971.8 260 972.7 257.7 973.7 255.5 974.8 253.2 975.9 251 977 248.9 978.3 246.7 979.6 244.6 980.9 242.6 982.3 240.6 983.8 238.6 985.3 236.7 986.9 234.9 988.6 233 990.3 231.3 992 229.6 993.8 227.9 995.6 226.3 997.5 224.8 999.5 223.3 1001.4 221.8 1003.5 220.5 1005.5 219.2 1007.7 218 1009.8 216.8 1012 215.7 1014.3 214.7 1016.5 213.7 1018.9 212.9 1021.2 212.1 1023.6 211.3 1026 210.7 1028.5 210.1 1030.9 209.5 1033.4 209 1035.9 208.6 1038.5 208.2 1041 207.8 1043.6 207.5 1046.2 207.2 1048.7 206.9 1051.3 206.7 1053.9 206.4 1056.5 206.2 1059.1 206 1061.7 205.8 1064.3 205.6 1066.8 205.4 1069.4 205.2 1071.9 205 1074.5 204.8 1077 204.5 1079.5 204.3 1082 204.1 1084.5 203.9 1087 203.7 1089.5 203.5 1092 203.3 1094.5 203.1 1097 203 1099.4 202.9 1101.9 202.8 1104.4 202.7 1106.9 202.6 1109.4 202.6 1111.8 202.5 1114.3 202.5 1116.8 202.5 1119.3 202.5 1121.7 202.6 1124.2 202.6 1126.7 202.7 1129.2 202.8 1131.7 202.9 1134.1 203 1136.6 203.1 1139.1 203.3 1141.6 203.4 1144.1 203.6 1146.5 203.8 1149 204 1151.5 204.2 1154 204.5 1156.5 204.7 1159 205 1161.5 205.3 1164 205.6 1166.5 205.9 1168.9 206.2 1171.4 206.5 1173.9 206.9 1176.4 207.2 1178.9 207.6 1181.5 207.9 1184 208.3 1186.5 208.7 1189 209.1 1191.5 209.5 1194 209.8 1196.5 210.2 1199 210.6 1201.5 211 1204 211.4 1206.5 211.7 1209 212.1 1211.5 212.5 1214.1 212.8 1216.6 213.2 1219.1 213.5 1221.6 213.8 1224.1 214.1 1226.6 214.4 1229.1 214.7 1231.6 214.9 1234.1 215.2 1236.6 215.4 1239.1 215.6 1241.6 215.8 1244.1 216 1246.6 216.1 1249.1 216.2 1251.6 216.3 1254.1 216.4 1256.6 216.4 1259.1 216.4 1261.6 216.4 1264 216.4 1266.5 216.3 1269 216.2 1271.5 216 1273.9 215.8 1276.4 215.6 1278.9 215.4 1281.4 215.1 1283.8 214.8 1286.3 214.5 1288.7 214.2 1291.2 213.8 1293.7 213.4 1296.1 213 1298.6 212.6 1301 212.1 1303.5 211.7 1305.9 211.2 1308.4 210.7 1310.8 210.2 1313.3 209.6 1315.7 209.1 1318.2 208.5 1320.6 208 1323.1 207.4 1325.5 206.8 1328 206.2 1330.4 205.6 1332.9 205 1335.3 204.4 1337.7 203.8 1340.2 203.2 1342.6 202.6 1345.1 201.9 1347.5 201.3 1350 200.7 1352.4 200.1 1354.9 199.5 1357.3 198.9 1359.8 198.3 1362.2 197.7 1364.7 197.1 1367.1 196.5 1369.6 195.9 1372 195.3 1374.5 194.8 1376.9 194.2 1379.4 193.7 1381.8 193.1 1384.3 192.6 1386.7 192 1389.2 191.5 1391.6 191 1394.1 190.4 1396.6 189.9 1399 189.4 1401.5 188.9 1403.9 188.4 1406.4 187.9 1408.9 187.4 1411.3 186.9 1413.8 186.4 1416.3 186 1418.7 185.5 1421.2 185 1423.7 184.6 1426.1 184.1 1428.6 183.7 1431.1 183.2 1433.5 182.8 1436 182.3 1438.5 181.9 1440.9 181.5 1443.4 181.1 1445.9 180.7 1448.4 180.3 1450.8 179.8 1453.3 179.5 1455.8 179.1 1458.2 178.7 1460.7 178.3 1463.2 177.9 1465.7 177.5 1468.2 177.2 1470.6 176.8 1473.1 176.5 1475.6 176.1 1478.1 175.8 1480.6 175.4 1483 175.1 1485.5 174.8 1488 174.4 1490.5 174.1 1493 173.8 1495.5 173.5 1497.9 173.2 1500.4 172.9 1502.9 172.6 1505.4 172.3 1507.9 172 1510.4 171.8 1512.9 171.5 1515.4 171.2 1517.9 171 1520.4 170.7 1522.8 170.5 1525.3 170.2 1527.8 170 1530.3 169.7 1532.8 169.5 1535.3 169.3 1537.8 169 1540.3 168.8 1542.8 168.6 1545.3 168.4 1547.8 168.2 1550.3 168 1552.8 167.8 1555.3 167.6 1557.8 167.4 1560.3 167.3 1562.8 167.1 1565.3 166.9 1567.8 166.8 1570.3 166.6 1572.8 166.5 1575.3 166.3 1577.8 166.2 1580.3 166 1582.9 165.9 1585.4 165.8 1587.9 165.6 1590.4 165.5 1592.9 165.4 1595.4 165.3 1597.9 165.2 1600.4 165.1 1602.9 165 1605.4 164.9 1608 164.8 1610.5 164.7 1613 164.7 1615.5 164.6" stroke="#ff0000" stroke-width="5"/>
<path d="M235 596L237.1 597.5 239.1 599.1 241.1 600.7 243.1 602.3 245 603.9 246.9 605.6 248.8 607.2 250.6 609 252.4 610.7 254.2 612.4 256 614.2 257.8 616 259.5 617.8 261.2 619.6 262.9 621.5 264.5 623.4 266.2 625.2 267.8 627.1 269.4 629 271 631 272.6 632.9 274.2 634.8 275.7 636.8 277.3 638.8 278.8 640.8 280.3 642.7 281.8 644.7 283.4 646.7 284.9 648.7 286.4 650.8 287.8 652.8 289.3 654.8 290.8 656.8 292.3 658.8 293.8 660.9 295.3 662.9 296.7 664.9 298.2 667 299.7 669 301.2 671 302.7 673 304.2 675 305.7 677 307.3 679 308.8 681 310.3 683 311.9 685 313.4 687 315 688.9 316.6 690.9 318.2 692.9 319.7 694.8 321.3 696.8 322.9 698.7 324.5 700.6 326.2 702.6 327.8 704.5 329.4 706.4 331 708.4 332.7 710.3 334.3 712.2 335.9 714.1 337.6 716 339.2 717.9 340.8 719.8 342.5 721.7 344.1 723.7 345.8 725.6 347.4 727.5 349.1 729.4 350.7 731.3 352.4 733.2 354 735.1 355.7 737 357.3 738.9 358.9 740.8 360.6 742.7 362.2 744.7 363.9 746.6 365.5 748.5 367.1 750.4 368.7 752.4 370.3 754.3 371.9 756.2 373.6 758.2 375.2 760.1 376.7 762.1 378.3 764 379.9 766 381.5 767.9 383 769.9 384.6 771.9 386.1 773.9 387.7 775.9 389.2 777.9 390.7 779.9 392.2 781.9 393.7 783.9 395.2 785.9 396.7 788 398.1 790 399.6 792.1 401 794.1 402.4 796.2 403.7 798.3 405.1 800.4 406.4 802.5 407.8 804.6 409 806.8 410.3 808.9 411.5 811.1 412.8 813.2 413.9 815.4 415.1 817.6 416.2 819.8 417.3 822.1 418.4 824.3 419.4 826.6 420.4 828.9 421.4 831.1 422.3 833.5 423.2 835.8 424 838.1 424.9 840.5 425.7 842.8 426.4 845.2 427.2 847.6 427.9 850 428.5 852.4 429.2 854.8 429.8 857.2 430.4 859.7 431 862.1 431.5 864.6 432 867 432.5 869.5 433 872 433.4 874.4 433.8 876.9 434.2 879.4 434.6 881.9 434.9 884.4 435.3 886.9 435.6 889.4 435.9 891.9 436.2 894.4 436.4 896.9 436.7 899.4 436.9 902 437.1 904.5 437.3 907 437.4 909.5 437.6 912 437.8 914.6 437.9 917.1 438 919.6 438.1 922.2 438.2 924.7 438.3 927.2 438.4 929.8 438.4 932.3 438.5 934.8 438.6 937.4 438.6 939.9 438.6 942.5 438.7 945 438.7 947.5 438.7 950.1 438.7 952.6 438.7 955.2 438.7 957.7 438.7 960.2 438.7 962.8 438.7 965.3 438.7 967.9 438.7 970.4 438.7 972.9 438.7 975.5 438.7 978 438.7 980.5 438.7 983.1 438.7 985.6 438.7 988.1 438.7 990.6 438.7 993.2 438.7 995.7 438.8 998.2 438.8 1000.7 438.8 1003.2 438.9 1005.7 438.9 1008.2 439 1010.7 439.1 1013.2 439.2 1015.7 439.3 1018.2 439.4 1020.7 439.5 1023.2 439.6 1025.7 439.8 1028.1 439.9 1030.6 440.1 1033.1 440.3 1035.5 440.5 1038L441.7 1035.5 441.9 1033 442.1 1030.6 442.3 1028.1 442.5 1025.6 442.6 1023.1 442.7 1020.6 442.8 1018.1 442.9 1015.6 443 1013.1 443.1 1010.7 443.1 1008.2 443.2 1005.7 443.2 1003.2 443.2 1000.7 443.3 998.2 443.3 995.7 443.3 993.2 443.3 990.7 443.2 988.2 443.2 985.7 443.2 983.2 443.2 980.7 443.2 978.1 443.1 975.6 443.1 973.1 443.1 970.6 443.1 968.1 443 965.6 443 963.1 443 960.6 443 958.1 443 955.5 443 953 443 950.5 443 948 443 945.5 443 943 443.1 940.5 443.1 937.9 443.2 935.4 443.3 932.9 443.4 930.4 443.5 927.9 443.6 925.4 443.7 922.8 443.9 920.3 444.1 917.8 444.3 915.3 444.5 912.8 444.7 910.2 445 907.7 445.2 905.2 445.5 902.7 445.8 900.2 446.2 897.7 446.6 895.1 446.9 892.6 447.4 890.1 447.8 887.6 448.3 885.1 448.8 882.6 449.3 880 449.9 877.5 450.5 875 451.1 872.5 451.8 870 452.5 867.5 453.2 865.1 454 862.6 454.8 860.2 455.6 857.8 456.5 855.4 457.4 853 458.4 850.6 459.4 848.3 460.4 846 461.5 843.7 462.6 841.5 463.7 839.2 464.9 837.1 466.1 834.9 467.4 832.8 468.7 830.8 470.1 828.7 471.5 826.7 473 824.8 474.5 822.9 476 821.1 477.6 819.3 479.3 817.6 481 815.9 482.7 814.3 484.5 812.7 486.3 811.2 488.2 809.7 490.1 808.3 492.1 806.9 494.1 805.6 496.2 804.4 498.3 803.2 500.4 802 502.5 800.9 504.7 799.8 507 798.8 509.2 797.8 511.5 796.9 513.8 796 516.1 795.1 518.5 794.3 520.9 793.5 523.3 792.8 525.7 792 528.2 791.4 530.6 790.7 533.1 790.1 535.6 789.5 538.1 789 540.6 788.4 543.1 788 545.6 787.5 548.1 787 550.7 786.6 553.2 786.2 555.7 785.8 558.3 785.5 560.8 785.2 563.3 784.8 565.9 784.6 568.4 784.3 570.9 784 573.5 783.8 576 783.5 578.5 783.3 581 783.1 583.6 783 586.1 782.8 588.6 782.6 591.1 782.5 593.6 782.3 596.2 782.2 598.7 782.1 601.2 782 603.7 781.9 606.2 781.8 608.7 781.7 611.2 781.6 613.7 781.5 616.2 781.4 618.8 781.3 621.3 781.2 623.8 781.1 626.3 781.1 628.8 781 631.3 780.9 633.8 780.8 636.3 780.7 638.8 780.6 641.3 780.5 643.8 780.4 646.3 780.3 648.8 780.2 651.3 780.1 653.8 780 656.3 779.8 658.8 779.7 661.3 779.5 663.8 779.3 666.3 779.1 668.8 778.9 671.3 778.7 673.8 778.5 676.2 778.3 678.7 778.1 681.2 777.8 683.7 777.6 686.2 777.3 688.7 777 691.2 776.7 693.7 776.4 696.2 776.1 698.6 775.8 701.1 775.5 703.6 775.2 706.1 774.9 708.6 774.5 711.1 774.2 713.5 773.8 716 773.4 718.5 773 721 772.7 723.5 772.3 725.9 771.9 728.4 771.5 730.9 771 733.4 770.6 735.8 770.2 738.3 769.8 740.8 769.3 743.3 768.9 745.7 768.4 748.2 767.9 750.7 767.5 753.1 767 755.6 766.5 758.1 766 760.5 765.5 763 765 765.5 764.5 767.9 764 770.4 763.5 772.8 763 775.3 762.5 777.8 761.9 780.2 761.4 782.7 760.9 785.1 760.3 787.6 759.8 790 759.2 792.5 758.7 794.9 758.1 797.4 757.6 799.8 757 802.3 756.4 804.7 755.8 807.2 755.2 809.6 754.6 812 754 814.5 753.4 816.9 752.8 819.3 752.2 821.8 751.6 824.2 751 826.6 750.3 829.1 749.7 831.5 749 833.9 748.4 836.3 747.7 838.7 747 841.1 746.4 843.5 745.7 846 745 848.4 744.3 850.8 743.6 853.2 742.8 855.5 742.1 857.9 741.4 860.3 740.6 862.7 739.9 865.1 739.1 867.5 738.3 869.8 737.5 872.2 736.8 874.6 735.9 876.9 735.1 879.3 734.3 881.7 733.5 884 732.6 886.3 731.8 888.7 730.9 891 730 893.4 729.1 895.7 728.2 898 727.3 900.3 726.4 902.7 725.4 905 724.5 907.3 723.5 909.6 722.5 911.9 721.6 914.2 720.6 916.4 719.5 918.7 718.5 921 717.5 923.3 716.4 925.5 715.3 927.8 714.3 930.1 713.2 932.3 712.1 934.6 711 936.8 709.9 939.1 708.7 941.3 707.6 943.5 706.5 945.8 705.3 948 704.2 950.3 703 952.5 701.9 954.7 700.7 957 699.6 959.2 698.4 961.4 697.3 963.7 696.1 965.9 695 968.2 693.9 970.4 692.7 972.7 691.6 974.9 690.5 977.2 689.3 979.4 688.2 981.7 687.1 984 686 986.2 684.9 988.5 683.8 990.8 682.7 993.1 681.6 995.3 680.6 997.6 679.5 999.9 678.4 1002.2 677.3 1004.4 676.2 1006.7 675.1 1009 674.1 1011.2 673 1013.5 671.9 1015.8 670.8 1018 669.7 1020.3 668.6 1022.5 667.4 1024.8 666.3 1027 665.2 1029.2 664 1031.4 662.9 1033.6 661.7 1035.8 660.5 1038 659.3 1040.2 658.1 1042.4 656.9 1044.6 655.7 1046.7 654.4 1048.9 653.2 1051 651.9 1053.1 650.5 1055.2 649.2 1057.3 647.9 1059.3 646.5 1061.4 645.1 1063.4 643.6 1065.4 642.2 1067.4 640.7 1069.3 639.2 1071.3 637.6 1073.2 636 1075.1 634.4 1076.9 632.7 1078.8 631.1 1080.6 629.3 1082.4 627.6 1084.1 625.7 1085.8 623.9 1087.5 622L1087.8 619.5 1088 617 1088.3 614.5 1088.5 612 1088.8 609.5 1089 607 1089.3 604.5 1089.5 602 1089.8 599.6 1090 597.1 1090.2 594.6 1090.5 592.1 1090.7 589.6 1091 587.1 1091.2 584.6 1091.4 582.1 1091.7 579.6 1091.9 577.1 1092.1 574.6 1092.4 572.1 1092.6 569.6 1092.9 567.1 1093.1 564.6 1093.3 562.1 1093.6 559.6 1093.8 557.1 1094 554.6 1094.3 552.2 1094.5 549.7 1094.8 547.2 1095 544.7 1095.3 542.2 1095.5 539.7 1095.8 537.2 1096 534.7 1096.3 532.2 1096.5 529.7 1096.8 527.2 1097 524.7 1097.3 522.2 1097.5 519.7 1097.8 517.2 1098.1 514.8 1098.3 512.3 1098.6 509.8 1098.9 507.3 1099.2 504.8 1099.4 502.3 1099.7 499.8 1100 497.3 1100.3 494.8 1100.6 492.3 1100.9 489.9 1101.2 487.4 1101.5 484.9 1101.8 482.4 1102.1 479.9 1102.4 477.4 1102.7 474.9 1103.1 472.5 1103.4 470 1103.7 467.5 1104.1 465 1104.4 462.5 1104.8 460 1105.1 457.6 1105.5 455.1 1105.8 452.6 1106.2 450.1 1106.6 447.6 1107 445.2 1107.4 442.7 1107.8 440.2 1108.2 437.7 1108.6 435.3 1109 432.8 1109.4 430.3 1109.8 427.8 1110.2 425.4 1110.7 422.9 1111.1 420.4 1111.6 418 1112 415.5 1112.5 413 1113 410.6 1113.5 408.1 1113.9 405.6 1114.4 403.2 1114.9 400.7 1115.4 398.2 1115.9 395.8 1116.5 393.3 1117 390.8 1117.5 388.4 1118 385.9 1118.6 383.5 1119.1 381 1119.6 378.5 1120.2 376.1 1120.7 373.6 1121.3 371.2 1121.8 368.7 1122.4 366.3 1122.9 363.8 1123.5 361.4 1124 358.9 1124.6 356.5 1125.1 354 1125.7 351.5 1126.3 349.1 1126.8 346.6 1127.4 344.2 1127.9 341.7 1128.5 339.3 1129 336.8 1129.5 334.4 1130.1 332 1130.6 329.5 1131.2 327.1 1131.7 324.6 1132.2 322.2 1132.8 319.7 1133.3 317.3 1133.8 314.8 1134.3 312.4 1134.8 309.9 1135.3 307.5 1135.8 305 1136.3 302.6 1136.8 300.2 1137.2 297.7 1137.7 295.3 1138.2 292.8 1138.6 290.4 1139.1 287.9 1139.5 285.5 1140 283 1140.4 280.6 1140.8 278.1 1141.2 275.7 1141.7 273.2 1142.1 270.8 1142.5 268.3 1142.9 265.9 1143.3 263.4 1143.7 261 1144.1 258.5 1144.5 256.1 1144.9 253.6 1145.3 251.1 1145.6 248.7 1146 246.2 1146.4 243.7 1146.8 241.2 1147.2 238.7 1147.6 236.3 1147.9 233.8 1148.3 231.3 1148.7 228.8 1149.1 226.3 1149.5 223.8 1149.8 221.3 1150.2 218.8 1150.6 216.3 1151 213.7 1151.4 211.2 1151.8 208.7 1152.2 206.1 1152.5 203.6 1152.9 201.1 1153.3 198.5 1153.7 196 1154.2 193.4 1154.6 190.8 1155.1 188.3 1155.6 185.8 1156.2 183.3 1156.8 180.9 1157.5 178.5 1158.3 176.2 1159.2 173.9 1160.2 171.7 1161.3 169.6 1162.6 167.5 1164 165.6 1165.6 163.7 1167.3 162.1 1169.1 160.5 1171.1 159.2 1173.2 158.1 1175.4 157.1 1177.7 156.3 1180.1 155.7 1182.5 155.2 1185 154.8 1187.5 154.5 1190.1 154.3 1192.6 154.2 1195.1 154.1 1197.6 154.2 1200.2 154.3 1202.7 154.4 1205.2 154.6 1207.8 154.9 1210.3 155.3 1212.8 155.7 1215.3 156.1 1217.8 156.6 1220.3 157.1 1222.8 157.7 1225.2 158.2 1227.7 158.9 1230.2 159.5 1232.6 160.2 1235 160.8 1237.5 161.5 1239.9 162.2 1242.3 162.9 1244.8 163.6 1247.2 164.3 1249.6 165 1252 165.6 1254.5 166.3 1256.9 166.9 1259.3 167.5 1261.8 168 1264.2 168.6 1266.6 169.1 1269.1 169.5 1271.5 170 1274 170.4 1276.4 170.7 1278.9 171.1 1281.4 171.4 1283.8 171.7 1286.3 171.9 1288.8 172.1 1291.2 172.3 1293.7 172.5 1296.2 172.6 1298.7 172.7 1301.1 172.7 1303.6 172.8 1306.1 172.8 1308.6 172.8 1311.1 172.7 1313.5 172.6 1316 172.5 1318.5 172.4 1321 172.2 1323.5 172 1325.9 171.8 1328.4 171.5 1330.9 171.3 1333.4 170.9 1335.8 170.6 1338.3 170.3 1340.8 169.9 1343.2 169.5 1345.7 169.1 1348.2 168.6 1350.6 168.2 1353.1 167.7 1355.6 167.2 1358 166.8 1360.5 166.3 1363 165.8 1365.4 165.3 1367.9 164.8 1370.4 164.3 1372.8 163.9 1375.3 163.4 1377.8 162.9 1380.3 162.5 1382.7 162.1 1385.2 161.6 1387.7 161.2 1390.2 160.8 1392.6 160.4 1395.1 160.1 1397.6 159.7 1400.1 159.4 1402.6 159 1405.1 158.7 1407.5 158.4 1410 158.1 1412.5 157.8 1415 157.5 1417.5 157.2 1420 157 1422.5 156.7 1425 156.5 1427.5 156.3 1430 156 1432.5 155.8 1435 155.6 1437.5 155.4 1440 155.3 1442.5 155.1 1445 154.9 1447.5 154.7 1450 154.6 1452.5 154.4 1455 154.3 1457.5 154.2 1460 154 1462.5 153.9 1465 153.8 1467.5 153.7 1470 153.6 1472.5 153.5 1475 153.4 1477.6 153.3 1480.1 153.2 1482.6 153.1 1485.1 153.1 1487.6 153 1490.1 152.9 1492.6 152.9 1495.1 152.8 1497.6 152.7 1500.2 152.7 1502.7 152.6 1505.2 152.6 1507.7 152.5 1510.2 152.5 1512.7 152.4 1515.2 152.4 1517.7 152.4 1520.3 152.3 1522.8 152.3 1525.3 152.2 1527.8 152.2 1530.3 152.2 1532.8 152.1 1535.3 152.1 1537.9 152 1540.4 152 1542.9 152 1545.4 151.9 1547.9 151.9 1550.4 151.8 1552.9 151.8 1555.4 151.7 1557.9 151.7 1560.5 151.6 1563 151.6 1565.5 151.5 1568 151.4 1570.5 151.4 1573 151.3 1575.5 151.2 1578 151.1 1580.5 151.1 1583 151 1585.5 150.9 1588 150.8 1590.5 150.7 1593 150.6 1595.5 150.5 1598 150.3 1600.5 150.2 1603 150.1 1605.5 149.9 1608 149.8 1610.5 149.6 1613 149.5 1615.5 149.3" stroke="#000090" stroke-width="8.6"/>
<path d="M235 596L237.1 597.5 239.1 599.1 241.1 600.7 243.1 602.3 245 603.9 246.9 605.6 248.8 607.2 250.6 609 252.4 610.7 254.2 612.4 256 614.2 257.8 616 259.5 617.8 261.2 619.6 262.9 621.5 264.5 623.4 266.2 625.2 267.8 627.1 269.4 629 271 631 272.6 632.9 274.2 634.8 275.7 636.8 277.3 638.8 278.8 640.8 280.3 642.7 281.8 644.7 283.4 646.7 284.9 648.7 286.4 650.8 287.8 652.8 289.3 654.8 290.8 656.8 292.3 658.8 293.8 660.9 295.3 662.9 296.7 664.9 298.2 667 299.7 669 301.2 671 302.7 673 304.2 675 305.7 677 307.3 679 308.8 681 310.3 683 311.9 685 313.4 687 315 688.9 316.6 690.9 318.2 692.9 319.7 694.8 321.3 696.8 322.9 698.7 324.5 700.6 326.2 702.6 327.8 704.5 329.4 706.4 331 708.4 332.7 710.3 334.3 712.2 335.9 714.1 337.6 716 339.2 717.9 340.8 719.8 342.5 721.7 344.1 723.7 345.8 725.6 347.4 727.5 349.1 729.4 350.7 731.3 352.4 733.2 354 735.1 355.7 737 357.3 738.9 358.9 740.8 360.6 742.7 362.2 744.7 363.9 746.6 365.5 748.5 367.1 750.4 368.7 752.4 370.3 754.3 371.9 756.2 373.6 758.2 375.2 760.1 376.7 762.1 378.3 764 379.9 766 381.5 767.9 383 769.9 384.6 771.9 386.1 773.9 387.7 775.9 389.2 777.9 390.7 779.9 392.2 781.9 393.7 783.9 395.2 785.9 396.7 788 398.1 790 399.6 792.1 401 794.1 402.4 796.2 403.7 798.3 405.1 800.4 406.4 802.5 407.8 804.6 409 806.8 410.3 808.9 411.5 811.1 412.8 813.2 413.9 815.4 415.1 817.6 416.2 819.8 417.3 822.1 418.4 824.3 419.4 826.6 420.4 828.9 421.4 831.1 422.3 833.5 423.2 835.8 424 838.1 424.9 840.5 425.7 842.8 426.4 845.2 427.2 847.6 427.9 850 428.5 852.4 429.2 854.8 429.8 857.2 430.4 859.7 431 862.1 431.5 864.6 432 867 432.5 869.5 433 872 433.4 874.4 433.8 876.9 434.2 879.4 434.6 881.9 434.9 884.4 435.3 886.9 435.6 889.4 435.9 891.9 436.2 894.4 436.4 896.9 436.7 899.4 436.9 902 437.1 904.5 437.3 907 437.4 909.5 437.6 912 437.8 914.6 437.9 917.1 438 919.6 438.1 922.2 438.2 924.7 438.3 927.2 438.4 929.8 438.4 932.3 438.5 934.8 438.6 937.4 438.6 939.9 438.6 942.5 438.7 945 438.7 947.5 438.7 950.1 438.7 952.6 438.7 955.2 438.7 957.7 438.7 960.2 438.7 962.8 438.7 965.3 438.7 967.9 438.7 970.4 438.7 972.9 438.7 975.5 438.7 978 438.7 980.5 438.7 983.1 438.7 985.6 438.7 988.1 438.7 990.6 438.7 993.2 438.7 995.7 438.8 998.2 438.8 1000.7 438.8 1003.2 438.9 1005.7 438.9 1008.2 439 1010.7 439.1 1013.2 439.2 1015.7 439.3 1018.2 439.4 1020.7 439.5 1023.2 439.6 1025.7 439.8 1028.1 439.9 1030.6 440.1 1033.1 440.3 1035.5 440.5 1038L441.7 1035.5 441.9 1033 442.1 1030.6 442.3 1028.1 442.5 1025.6 442.6 1023.1 442.7 1020.6 442.8 1018.1 442.9 1015.6 443 1013.1 443.1 1010.7 443.1 1008.2 443.2 1005.7 443.2 1003.2 443.2 1000.7 443.3 998.2 443.3 995.7 443.3 993.2 443.3 990.7 443.2 988.2 443.2 985.7 443.2 983.2 443.2 980.7 443.2 978.1 443.1 975.6 443.1 973.1 443.1 970.6 443.1 968.1 443 965.6 443 963.1 443 960.6 443 958.1 443 955.5 443 953 443 950.5 443 948 443 945.5 443 943 443.1 940.5 443.1 937.9 443.2 935.4 443.3 932.9 443.4 930.4 443.5 927.9 443.6 925.4 443.7 922.8 443.9 920.3 444.1 917.8 444.3 915.3 444.5 912.8 444.7 910.2 445 907.7 445.2 905.2 445.5 902.7 445.8 900.2 446.2 897.7 446.6 895.1 446.9 892.6 447.4 890.1 447.8 887.6 448.3 885.1 448.8 882.6 449.3 880 449.9 877.5 450.5 875 451.1 872.5 451.8 870 452.5 867.5 453.2 865.1 454 862.6 454.8 860.2 455.6 857.8 456.5 855.4 457.4 853 458.4 850.6 459.4 848.3 460.4 846 461.5 843.7 462.6 841.5 463.7 839.2 464.9 837.1 466.1 834.9 467.4 832.8 468.7 830.8 470.1 828.7 471.5 826.7 473 824.8 474.5 822.9 476 821.1 477.6 819.3 479.3 817.6 481 815.9 482.7 814.3 484.5 812.7 486.3 811.2 488.2 809.7 490.1 808.3 492.1 806.9 494.1 805.6 496.2 804.4 498.3 803.2 500.4 802 502.5 800.9 504.7 799.8 507 798.8 509.2 797.8 511.5 796.9 513.8 796 516.1 795.1 518.5 794.3 520.9 793.5 523.3 792.8 525.7 792 528.2 791.4 530.6 790.7 533.1 790.1 535.6 789.5 538.1 789 540.6 788.4 543.1 788 545.6 787.5 548.1 787 550.7 786.6 553.2 786.2 555.7 785.8 558.3 785.5 560.8 785.2 563.3 784.8 565.9 784.6 568.4 784.3 570.9 784 573.5 783.8 576 783.5 578.5 783.3 581 783.1 583.6 783 586.1 782.8 588.6 782.6 591.1 782.5 593.6 782.3 596.2 782.2 598.7 782.1 601.2 782 603.7 781.9 606.2 781.8 608.7 781.7 611.2 781.6 613.7 781.5 616.2 781.4 618.8 781.3 621.3 781.2 623.8 781.1 626.3 781.1 628.8 781 631.3 780.9 633.8 780.8 636.3 780.7 638.8 780.6 641.3 780.5 643.8 780.4 646.3 780.3 648.8 780.2 651.3 780.1 653.8 780 656.3 779.8 658.8 779.7 661.3 779.5 663.8 779.3 666.3 779.1 668.8 778.9 671.3 778.7 673.8 778.5 676.2 778.3 678.7 778.1 681.2 777.8 683.7 777.6 686.2 777.3 688.7 777 691.2 776.7 693.7 776.4 696.2 776.1 698.6 775.8 701.1 775.5 703.6 775.2 706.1 774.9 708.6 774.5 711.1 774.2 713.5 773.8 716 773.4 718.5 773 721 772.7 723.5 772.3 725.9 771.9 728.4 771.5 730.9 771 733.4 770.6 735.8 770.2 738.3 769.8 740.8 769.3 743.3 768.9 745.7 768.4 748.2 767.9 750.7 767.5 753.1 767 755.6 766.5 758.1 766 760.5 765.5 763 765 765.5 764.5 767.9 764 770.4 763.5 772.8 763 775.3 762.5 777.8 761.9 780.2 761.4 782.7 760.9 785.1 760.3 787.6 759.8 790 759.2 792.5 758.7 794.9 758.1 797.4 757.6 799.8 757 802.3 756.4 804.7 755.8 807.2 755.2 809.6 754.6 812 754 814.5 753.4 816.9 752.8 819.3 752.2 821.8 751.6 824.2 751 826.6 750.3 829.1 749.7 831.5 749 833.9 748.4 836.3 747.7 838.7 747 841.1 746.4 843.5 745.7 846 745 848.4 744.3 850.8 743.6 853.2 742.8 855.5 742.1 857.9 741.4 860.3 740.6 862.7 739.9 865.1 739.1 867.5 738.3 869.8 737.5 872.2 736.8 874.6 735.9 876.9 735.1 879.3 734.3 881.7 733.5 884 732.6 886.3 731.8 888.7 730.9 891 730 893.4 729.1 895.7 728.2 898 727.3 900.3 726.4 902.7 725.4 905 724.5 907.3 723.5 909.6 722.5 911.9 721.6 914.2 720.6 916.4 719.5 918.7 718.5 921 717.5 923.3 716.4 925.5 715.3 927.8 714.3 930.1 713.2 932.3 712.1 934.6 711 936.8 709.9 939.1 708.7 941.3 707.6 943.5 706.5 945.8 705.3 948 704.2 950.3 703 952.5 701.9 954.7 700.7 957 699.6 959.2 698.4 961.4 697.3 963.7 696.1 965.9 695 968.2 693.9 970.4 692.7 972.7 691.6 974.9 690.5 977.2 689.3 979.4 688.2 981.7 687.1 984 686 986.2 684.9 988.5 683.8 990.8 682.7 993.1 681.6 995.3 680.6 997.6 679.5 999.9 678.4 1002.2 677.3 1004.4 676.2 1006.7 675.1 1009 674.1 1011.2 673 1013.5 671.9 1015.8 670.8 1018 669.7 1020.3 668.6 1022.5 667.4 1024.8 666.3 1027 665.2 1029.2 664 1031.4 662.9 1033.6 661.7 1035.8 660.5 1038 659.3 1040.2 658.1 1042.4 656.9 1044.6 655.7 1046.7 654.4 1048.9 653.2 1051 651.9 1053.1 650.5 1055.2 649.2 1057.3 647.9 1059.3 646.5 1061.4 645.1 1063.4 643.6 1065.4 642.2 1067.4 640.7 1069.3 639.2 1071.3 637.6 1073.2 636 1075.1 634.4 1076.9 632.7 1078.8 631.1 1080.6 629.3 1082.4 627.6 1084.1 625.7 1085.8 623.9 1087.5 622L1087.8 619.5 1088 617 1088.3 614.5 1088.5 612 1088.8 609.5 1089 607 1089.3 604.5 1089.5 602 1089.8 599.6 1090 597.1 1090.2 594.6 1090.5 592.1 1090.7 589.6 1091 587.1 1091.2 584.6 1091.4 582.1 1091.7 579.6 1091.9 577.1 1092.1 574.6 1092.4 572.1 1092.6 569.6 1092.9 567.1 1093.1 564.6 1093.3 562.1 1093.6 559.6 1093.8 557.1 1094 554.6 1094.3 552.2 1094.5 549.7 1094.8 547.2 1095 544.7 1095.3 542.2 1095.5 539.7 1095.8 537.2 1096 534.7 1096.3 532.2 1096.5 529.7 1096.8 527.2 1097 524.7 1097.3 522.2 1097.5 519.7 1097.8 517.2 1098.1 514.8 1098.3 512.3 1098.6 509.8 1098.9 507.3 1099.2 504.8 1099.4 502.3 1099.7 499.8 1100 497.3 1100.3 494.8 1100.6 492.3 1100.9 489.9 1101.2 487.4 1101.5 484.9 1101.8 482.4 1102.1 479.9 1102.4 477.4 1102.7 474.9 1103.1 472.5 1103.4 470 1103.7 467.5 1104.1 465 1104.4 462.5 1104.8 460 1105.1 457.6 1105.5 455.1 1105.8 452.6 1106.2 450.1 1106.6 447.6 1107 445.2 1107.4 442.7 1107.8 440.2 1108.2 437.7 1108.6 435.3 1109 432.8 1109.4 430.3 1109.8 427.8 1110.2 425.4 1110.7 422.9 1111.1 420.4 1111.6 418 1112 415.5 1112.5 413 1113 410.6 1113.5 408.1 1113.9 405.6 1114.4 403.2 1114.9 400.7 1115.4 398.2 1115.9 395.8 1116.5 393.3 1117 390.8 1117.5 388.4 1118 385.9 1118.6 383.5 1119.1 381 1119.6 378.5 1120.2 376.1 1120.7 373.6 1121.3 371.2 1121.8 368.7 1122.4 366.3 1122.9 363.8 1123.5 361.4 1124 358.9 1124.6 356.5 1125.1 354 1125.7 351.5 1126.3 349.1 1126.8 346.6 1127.4 344.2 1127.9 341.7 1128.5 339.3 1129 336.8 1129.5 334.4 1130.1 332 1130.6 329.5 1131.2 327.1 1131.7 324.6 1132.2 322.2 1132.8 319.7 1133.3 317.3 1133.8 314.8 1134.3 312.4 1134.8 309.9 1135.3 307.5 1135.8 305 1136.3 302.6 1136.8 300.2 1137.2 297.7 1137.7 295.3 1138.2 292.8 1138.6 290.4 1139.1 287.9 1139.5 285.5 1140 283 1140.4 280.6 1140.8 278.1 1141.2 275.7 1141.7 273.2 1142.1 270.8 1142.5 268.3 1142.9 265.9 1143.3 263.4 1143.7 261 1144.1 258.5 1144.5 256.1 1144.9 253.6 1145.3 251.1 1145.6 248.7 1146 246.2 1146.4 243.7 1146.8 241.2 1147.2 238.7 1147.6 236.3 1147.9 233.8 1148.3 231.3 1148.7 228.8 1149.1 226.3 1149.5 223.8 1149.8 221.3 1150.2 218.8 1150.6 216.3 1151 213.7 1151.4 211.2 1151.8 208.7 1152.2 206.1 1152.5 203.6 1152.9 201.1 1153.3 198.5 1153.7 196 1154.2 193.4 1154.6 190.8 1155.1 188.3 1155.6 185.8 1156.2 183.3 1156.8 180.9 1157.5 178.5 1158.3 176.2 1159.2 173.9 1160.2 171.7 1161.3 169.6 1162.6 167.5 1164 165.6 1165.6 163.7 1167.3 162.1 1169.1 160.5 1171.1 159.2 1173.2 158.1 1175.4 157.1 1177.7 156.3 1180.1 155.7 1182.5 155.2 1185 154.8 1187.5 154.5 1190.1 154.3 1192.6 154.2 1195.1 154.1 1197.6 154.2 1200.2 154.3 1202.7 154.4 1205.2 154.6 1207.8 154.9 1210.3 155.3 1212.8 155.7 1215.3 156.1 1217.8 156.6 1220.3 157.1 1222.8 157.7 1225.2 158.2 1227.7 158.9 1230.2 159.5 1232.6 160.2 1235 160.8 1237.5 161.5 1239.9 162.2 1242.3 162.9 1244.8 163.6 1247.2 164.3 1249.6 165 1252 165.6 1254.5 166.3 1256.9 166.9 1259.3 167.5 1261.8 168 1264.2 168.6 1266.6 169.1 1269.1 169.5 1271.5 170 1274 170.4 1276.4 170.7 1278.9 171.1 1281.4 171.4 1283.8 171.7 1286.3 171.9 1288.8 172.1 1291.2 172.3 1293.7 172.5 1296.2 172.6 1298.7 172.7 1301.1 172.7 1303.6 172.8 1306.1 172.8 1308.6 172.8 1311.1 172.7 1313.5 172.6 1316 172.5 1318.5 172.4 1321 172.2 1323.5 172 1325.9 171.8 1328.4 171.5 1330.9 171.3 1333.4 170.9 1335.8 170.6 1338.3 170.3 1340.8 169.9 1343.2 169.5 1345.7 169.1 1348.2 168.6 1350.6 168.2 1353.1 167.7 1355.6 167.2 1358 166.8 1360.5 166.3 1363 165.8 1365.4 165.3 1367.9 164.8 1370.4 164.3 1372.8 163.9 1375.3 163.4 1377.8 162.9 1380.3 162.5 1382.7 162.1 1385.2 161.6 1387.7 161.2 1390.2 160.8 1392.6 160.4 1395.1 160.1 1397.6 159.7 1400.1 159.4 1402.6 159 1405.1 158.7 1407.5 158.4 1410 158.1 1412.5 157.8 1415 157.5 1417.5 157.2 1420 157 1422.5 156.7 1425 156.5 1427.5 156.3 1430 156 1432.5 155.8 1435 155.6 1437.5 155.4 1440 155.3 1442.5 155.1 1445 154.9 1447.5 154.7 1450 154.6 1452.5 154.4 1455 154.3 1457.5 154.2 1460 154 1462.5 153.9 1465 153.8 1467.5 153.7 1470 153.6 1472.5 153.5 1475 153.4 1477.6 153.3 1480.1 153.2 1482.6 153.1 1485.1 153.1 1487.6 153 1490.1 152.9 1492.6 152.9 1495.1 152.8 1497.6 152.7 1500.2 152.7 1502.7 152.6 1505.2 152.6 1507.7 152.5 1510.2 152.5 1512.7 152.4 1515.2 152.4 1517.7 152.4 1520.3 152.3 1522.8 152.3 1525.3 152.2 1527.8 152.2 1530.3 152.2 1532.8 152.1 1535.3 152.1 1537.9 152 1540.4 152 1542.9 152 1545.4 151.9 1547.9 151.9 1550.4 151.8 1552.9 151.8 1555.4 151.7 1557.9 151.7 1560.5 151.6 1563 151.6 1565.5 151.5 1568 151.4 1570.5 151.4 1573 151.3 1575.5 151.2 1578 151.1 1580.5 151.1 1583 151 1585.5 150.9 1588 150.8 1590.5 150.7 1593 150.6 1595.5 150.5 1598 150.3 1600.5 150.2 1603 150.1 1605.5 149.9 1608 149.8 1610.5 149.6 1613 149.5 1615.5 149.3" stroke="#0000e0" stroke-width="5.2"/>
</g>
<g font-family="'Liberation Sans', Arial, sans-serif" font-weight="bold" font-size="52" fill="#000">
<g text-anchor="middle"><text transform="translate(281.1 1115.3) scale(1 1.035)" letter-spacing="0.8">-1.0</text><text transform="translate(503.9 1115.3) scale(1 1.035)" letter-spacing="0.8">-0.5</text><text transform="translate(726.8 1115.3) scale(1 1.035)" letter-spacing="0.8">0.0</text><text transform="translate(949.6 1115.3) scale(1 1.035)" letter-spacing="0.8">0.5</text><text transform="translate(1172.5 1115.3) scale(1 1.035)" letter-spacing="0.8">1.0</text><text transform="translate(1395.3 1115.3) scale(1 1.035)" letter-spacing="0.8">1.5</text><text transform="translate(1618.2 1115.3) scale(1 1.035)" letter-spacing="0.8">2.0</text></g>
<g text-anchor="end"><text transform="translate(201.6 141.7) scale(1 1.06)">10<tspan class="sup" dx="1.6" dy="-30.5">0</tspan></text><text transform="translate(201.6 256.2) scale(1 1.06)">10<tspan class="sup" dx="1.6" dy="-30.5">-1</tspan></text><text transform="translate(201.6 370.6) scale(1 1.06)">10<tspan class="sup" dx="1.6" dy="-30.5">-2</tspan></text><text transform="translate(201.6 485.1) scale(1 1.06)">10<tspan class="sup" dx="1.6" dy="-30.5">-3</tspan></text><text transform="translate(201.6 599.5) scale(1 1.06)">10<tspan class="sup" dx="1.6" dy="-30.5">-4</tspan></text><text transform="translate(201.6 713.9) scale(1 1.06)">10<tspan class="sup" dx="1.6" dy="-30.5">-5</tspan></text><text transform="translate(201.6 828.4) scale(1 1.06)">10<tspan class="sup" dx="1.6" dy="-30.5">-6</tspan></text><text transform="translate(201.6 942.8) scale(1 1.06)">10<tspan class="sup" dx="1.6" dy="-30.5">-7</tspan></text><text transform="translate(201.6 1057.3) scale(1 1.06)">10<tspan class="sup" dx="1.6" dy="-30.5">-8</tspan></text></g>
</g>
<rect x="269" y="53.5" width="697" height="166.3" fill="#fff" stroke="#1a1a1a" stroke-width="2.6"/>
<g stroke-width="9" stroke-linecap="round">
<path d="M278.5 82.8H379.3" stroke="#000"/>
<path d="M278.5 138.9H379.3" stroke="#900000"/>
<path d="M278.5 138.9H379.3" stroke="#f00000" stroke-width="5"/>
<path d="M278.5 194.4H379.3" stroke="#000080"/>
<path d="M278.5 194.4H379.3" stroke="#0000c8" stroke-width="5"/>
</g>
<g font-family="'Liberation Serif', 'Times New Roman', serif" font-weight="bold" fill="#000">
<text x="390" y="98.3" font-size="44.5" textLength="388" lengthAdjust="spacingAndGlyphs">polished 5A06 block</text>
<text x="390" y="153.6" font-size="44.5" textLength="572" lengthAdjust="spacingAndGlyphs">partially damaged paint layer</text>
<text x="387" y="209.8" font-size="47.5"><tspan textLength="225" lengthAdjust="spacingAndGlyphs">11.9 W/cm</tspan><tspan font-size="30" dy="-21.5" dx="1">2</tspan></text>
<text x="768" y="1213" font-size="48" textLength="263" lengthAdjust="spacingAndGlyphs">Potential / V</text>
<text transform="translate(60.5 669.3) rotate(-90)" x="0" y="0" font-size="50.5" textLength="258" lengthAdjust="spacingAndGlyphs">Current / A</text>
</g>
</svg>
</body></html>
